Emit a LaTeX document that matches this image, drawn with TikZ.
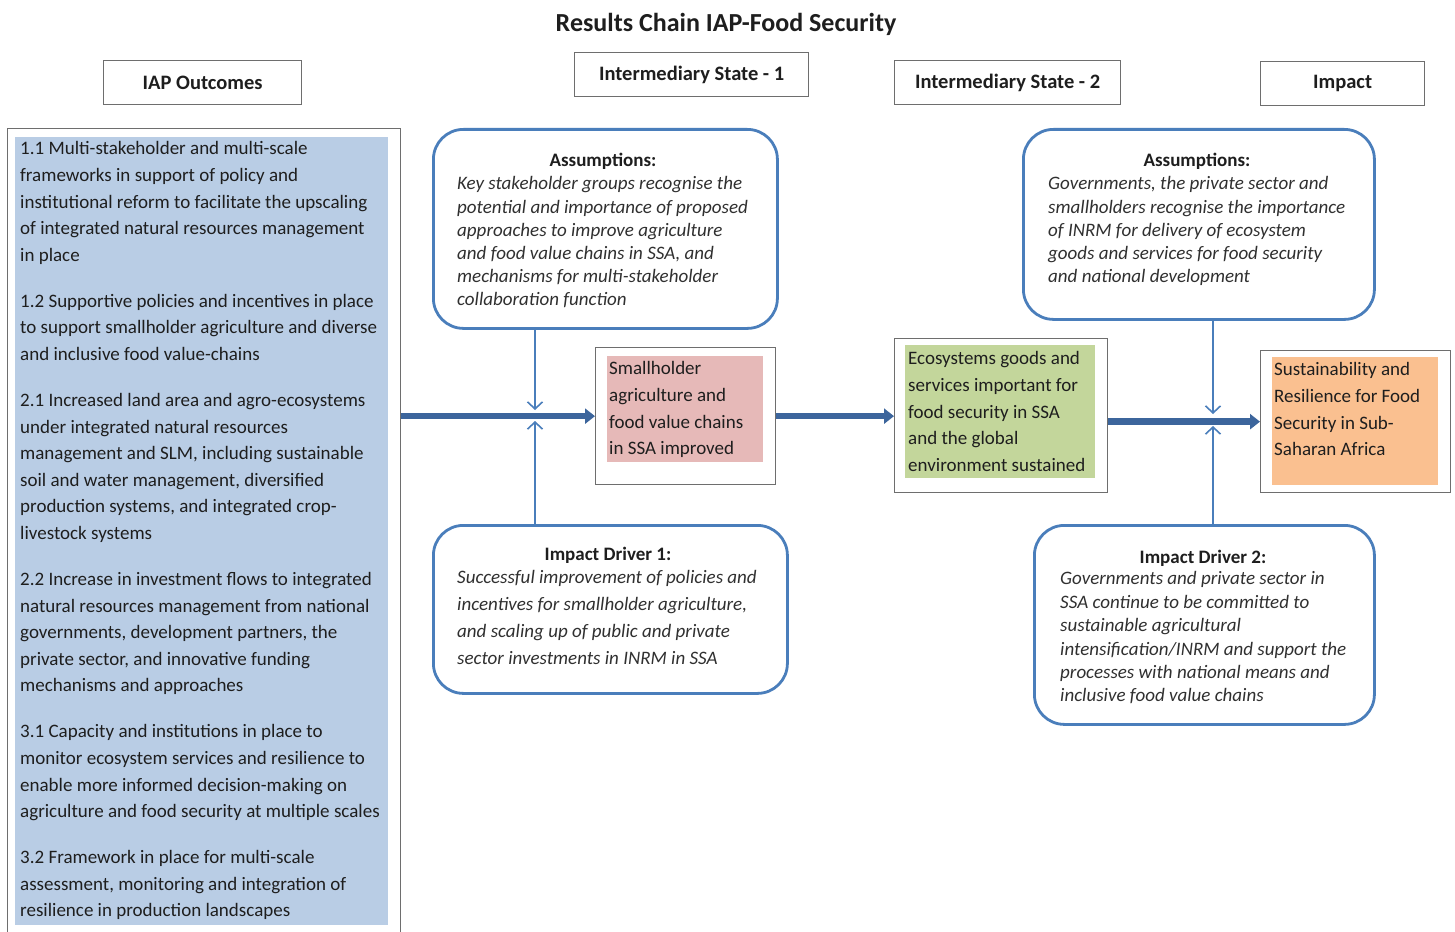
\documentclass[tikz,border=0pt]{standalone}
\usepackage{fontspec}
\setmainfont{Carlito}
\usetikzlibrary{arrows.meta}
\definecolor{fillblue}{HTML}{B9CDE5}
\definecolor{fillpink}{HTML}{E6B9B8}
\definecolor{fillgreen}{HTML}{C3D69B}
\definecolor{fillorange}{HTML}{FAC090}
\definecolor{edgeblue}{HTML}{4A7EBB}
\definecolor{arrowblue}{HTML}{3C659C}
\definecolor{boxgray}{HTML}{6E6E6E}
\definecolor{txt}{HTML}{1E1E1E}
\definecolor{itxt}{HTML}{303030}
\tikzset{
  frame/.style={draw=boxgray, line width=1.3pt, inner sep=0pt, anchor=north west},
  hdr/.style={draw=boxgray, line width=1.3pt, inner sep=0pt, anchor=north west,
    font=\fontsize{20.5}{24}\selectfont\bfseries, text=txt},
  patch/.style={draw=none, inner sep=0pt, anchor=north west},
  roundbox/.style={draw=edgeblue, line width=2.8pt, rounded corners=30pt, inner sep=0pt, anchor=north west},
  bodytext/.style={inner sep=0pt, anchor=north west, align=left, text=txt,
    font=\fontsize{19}{26.6}\selectfont},
  itext/.style={inner sep=0pt, anchor=north west, align=left, text=itxt,
    font=\fontsize{19}{23.2}\selectfont\itshape},
  boxtitle/.style={inner sep=0pt, text=txt, font=\fontsize{19}{23}\selectfont\bfseries},
  mainarrow/.style={draw=arrowblue, line width=6.5pt, -{Triangle[length=10pt,width=15pt]}},
  thinarrow/.style={draw=edgeblue, line width=1.6pt, -{Straight Barb[length=7pt,width=15pt]}},
}
\begin{document}
\begin{tikzpicture}[x=1pt,y=-1pt]
\useasboundingbox (0,0) rectangle (1455,931);
\fill[white] (0,0) rectangle (1455,931);

% title
\node[inner sep=0pt, text=txt, font=\fontsize{26}{30}\selectfont\bfseries] (title) at (726,24) {Results Chain IAP-Food Security};

% headers
\node[hdr, minimum width=198pt, minimum height=44pt] (h1) at (103,60) {IAP Outcomes};
\node[hdr, minimum width=234pt, minimum height=44pt] (h2) at (574,52) {Intermediary State - 1};
\node[hdr, minimum width=226pt, minimum height=44pt] (h3) at (894,60) {Intermediary State - 2};
\node[hdr, minimum width=164pt, minimum height=44pt] (h4) at (1260,61) {Impact};

% left outcomes box
\node[frame, minimum width=393pt, minimum height=812pt] (outer) at (7,128) {};
\node[patch, fill=fillblue, minimum width=373pt, minimum height=788pt] (bluefill) at (15,137) {};
\node[bodytext] (outtext) at (20,141.5) {%
1.1 Multi-stakeholder and multi-scale\\
frameworks in support of policy and\\
institutional reform to facilitate the upscaling\\
of integrated natural resources management\\
in place\\[19.4pt]
1.2 Supportive policies and incentives in place\\
to support smallholder agriculture and diverse\\
and inclusive food value-chains\\[19.4pt]
2.1 Increased land area and agro-ecosystems\\
under integrated natural resources\\
management and SLM, including sustainable\\
soil and water management, diversified\\
production systems, and integrated crop-\\
livestock systems\\[19.4pt]
2.2 Increase in investment flows to integrated\\
natural resources management from national\\
governments, development partners, the\\
private sector, and innovative funding\\
mechanisms and approaches\\[19.4pt]
3.1 Capacity and institutions in place to\\
monitor ecosystem services and resilience to\\
enable more informed decision-making on\\
agriculture and food security at multiple scales\\[19.4pt]
3.2 Framework in place for multi-scale\\
assessment, monitoring and integration of\\
resilience in production landscapes};

% intermediary state 1
\node[frame, minimum width=180pt, minimum height=137pt] (small) at (595,347) {};
\node[patch, fill=fillpink, minimum width=156pt, minimum height=106pt] (pinkfill) at (607,356) {};
\node[bodytext] (smalltext) at (609,361.5) {Smallholder\\agriculture and\\food value chains\\in SSA improved};

% intermediary state 2
\node[frame, minimum width=213pt, minimum height=154pt] (eco) at (894,338) {};
\node[patch, fill=fillgreen, minimum width=190pt, minimum height=133pt] (greenfill) at (905,345) {};
\node[bodytext] (ecotext) at (908,351.5) {Ecosystems goods and\\services important for\\food security in SSA\\and the global\\environment sustained};

% impact
\node[frame, minimum width=190pt, minimum height=142pt] (sust) at (1260,350) {};
\node[patch, fill=fillorange, minimum width=166pt, minimum height=128pt] (orangefill) at (1272,357) {};
\node[bodytext] (susttext) at (1274,362.5) {Sustainability and\\Resilience for Food\\Security in Sub-\\Saharan Africa};

% assumptions 1
\node[roundbox, minimum width=344pt, minimum height=199pt] (as1) at (432,128) {};
\node[boxtitle] (as1t) at (603,161) {Assumptions:};
\node[itext] (as1b) at (457,176.5) {Key stakeholder groups recognise the\\potential and importance of proposed\\approaches to improve agriculture\\and food value chains in SSA, and\\mechanisms for multi-stakeholder\\collaboration function};

% assumptions 2
\node[roundbox, minimum width=351pt, minimum height=190pt] (as2) at (1022,128) {};
\node[boxtitle] (as2t) at (1197,161) {Assumptions:};
\node[itext] (as2b) at (1048,176.5) {Governments, the private sector and\\smallholders recognise the importance\\of INRM for delivery of ecosystem\\goods and services for food security\\and national development};

% impact driver 1
\node[roundbox, minimum width=354pt, minimum height=168pt] (dr1) at (432,524) {};
\node[boxtitle] (dr1t) at (608,555) {Impact Driver 1:};
\node[itext, font=\fontsize{19}{27}\selectfont\itshape] (dr1b) at (457,570.5) {Successful improvement of policies and\\incentives for smallholder agriculture,\\and scaling up of public and private\\sector investments in INRM in SSA};

% impact driver 2
\node[roundbox, minimum width=340pt, minimum height=199pt] (dr2) at (1033,524) {};
\node[boxtitle] (dr2t) at (1203,558) {Impact Driver 2:};
\node[itext, font=\fontsize{19}{23.4}\selectfont\itshape] (dr2b) at (1060,571.5) {Governments and private sector in\\SSA continue to be committed to\\sustainable agricultural\\intensification/INRM and support the\\processes with national means and\\inclusive food value chains};

% junction coordinates on main arrows
\coordinate (j1top) at (535,410);
\coordinate (j1bot) at (535,421);
\coordinate (j2top) at (1213,414);
\coordinate (j2bot) at (1213,426);

% main arrows
\draw[mainarrow] (outer.east |- small.west) -- (small.west);
\draw[mainarrow] (small.east) -- (small.east -| eco.west);
\draw[mainarrow] (eco.east |- sust.west) -- (sust.west);

% thin arrows
\draw[thinarrow] (as1.south -| j1top) -- (j1top);
\draw[thinarrow] (dr1.north -| j1bot) -- (j1bot);
\draw[thinarrow] (as2.south -| j2top) -- (j2top);
\draw[thinarrow] (dr2.north -| j2bot) -- (j2bot);
\end{tikzpicture}
\end{document}
